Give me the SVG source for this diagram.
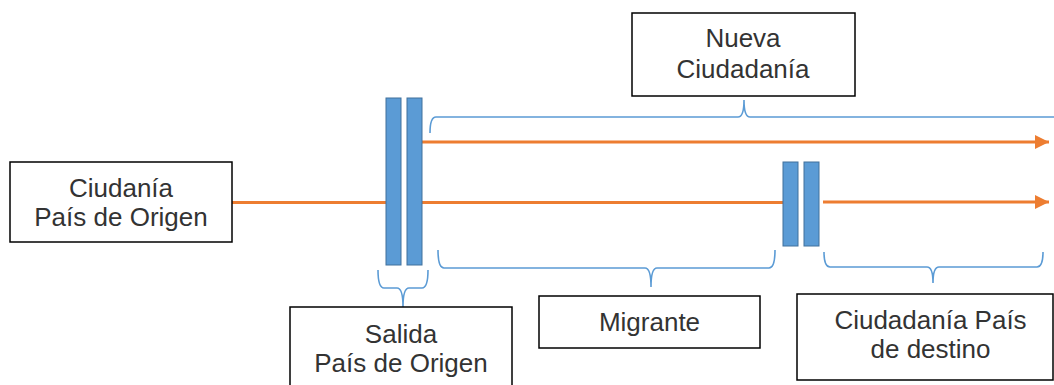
<svg xmlns="http://www.w3.org/2000/svg" width="1054" height="385" viewBox="0 0 1054 385">
<defs>
<style>
.box{fill:#fff;stroke:#000;stroke-width:1.5}
.t{font-family:"Liberation Sans",Arial,sans-serif;font-size:26px;fill:#333;text-anchor:middle}
.bar{fill:#5B9BD5;stroke:#41719C;stroke-width:1}
.arr{stroke:#ED7D31;stroke-width:3;fill:none}
.brace{stroke:#5B9BD5;stroke-width:1.6;fill:none}
</style>
<marker id="ah" viewBox="0 0 10 10" refX="10" refY="5" markerUnits="userSpaceOnUse" markerWidth="16" markerHeight="14" orient="auto">
<path d="M0,0 L10,5 L0,10 Z" fill="#ED7D31"/>
</marker>
</defs>
<rect width="1054" height="385" fill="#fff"/>
<g id="connectors">
<line class="arr" x1="232" y1="202.5" x2="387" y2="202.5"/>
<line class="arr" x1="422" y1="202.5" x2="783" y2="202.5"/>
<line class="arr" x1="823" y1="202" x2="1049" y2="202" marker-end="url(#ah)"/>
<line class="arr" x1="422" y1="142" x2="1049" y2="142" marker-end="url(#ah)"/>
<path class="brace" d="M430,133 Q430,117 436,117 L738,117 Q744,117 744,100 Q744,117 750,117 L1060,117"/>
<path class="brace" d="M378,270 Q378,288 384,288 L397,288 Q403,288 403,307 Q403,288 409,288 L422,288 Q428,288 428,270"/>
<path class="brace" d="M438,250 Q438,268 444,268 L645,268 Q651,268 651,287 Q651,268 657,268 L769,268 Q775,268 775,250"/>
<path class="brace" d="M824,252 Q824,267 830,267 L927,267 Q933,267 933,283 Q933,267 939,267 L1037,267 Q1043,267 1043,252"/>
</g>
<g id="bars-salida">
<rect class="bar" x="386" y="98" width="15" height="167"/>
<rect class="bar" x="407" y="98" width="15" height="167"/>
</g>
<g id="bars-destino">
<rect class="bar" x="783" y="162" width="15" height="84"/>
<rect class="bar" x="804" y="162" width="15" height="84"/>
</g>
<g id="origen">
<rect class="box" x="10" y="162" width="222" height="80"/>
<text class="t" x="121" y="197">Ciudanía</text>
<text class="t" x="121" y="226">País de Origen</text>
</g>
<g id="nueva">
<rect class="box" x="632" y="13" width="223" height="83"/>
<text class="t" x="743" y="47">Nueva</text>
<text class="t" x="743" y="78">Ciudadanía</text>
</g>
<g id="salida">
<rect class="box" x="290" y="307" width="222" height="100"/>
<text class="t" x="401" y="343">Salida</text>
<text class="t" x="401" y="372">País de Origen</text>
</g>
<g id="migrante">
<rect class="box" x="539" y="296" width="221" height="52"/>
<text class="t" x="649.5" y="331">Migrante</text>
</g>
<g id="destino">
<rect class="box" x="797" y="294" width="256" height="86"/>
<text class="t" x="930.5" y="329">Ciudadanía País</text>
<text class="t" x="930.5" y="358">de destino</text>
</g>
</svg>
